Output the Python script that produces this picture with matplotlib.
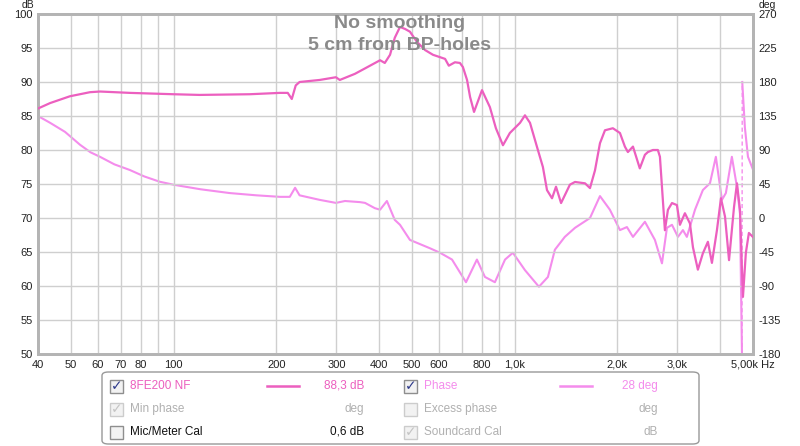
import matplotlib.pyplot as plt
import numpy as np
from matplotlib.patches import FancyBboxPatch, Rectangle

plt.rcParams['font.family'] = ['Liberation Sans', 'DejaVu Sans']
plt.rcParams['axes.unicode_minus'] = False

# magnitude (8FE200 NF), dB
mag_freq = [40, 43.4, 46.4, 49.6, 56.8, 60.8, 74.4, 100, 119, 167, 205, 216, 222, 228, 234,
            268, 299, 307, 340, 364, 403, 416, 431, 445, 461, 477, 493, 517, 546, 576,
            625, 641, 668, 691, 705, 725, 740, 760, 802, 846, 881, 924, 968, 1037, 1072,
            1109, 1162, 1210, 1244, 1287, 1322, 1368, 1452, 1503, 1608, 1663, 1720, 1779,
            1840, 1941, 2036, 2105, 2148, 2223, 2328, 2410, 2459, 2543, 2630, 2667, 2758,
            2815, 2893, 2991, 3053, 3157, 3266, 3333, 3446, 3564, 3687, 3789, 3919, 4027,
            4139, 4253, 4398, 4487, 4579, 4641, 4672, 4765, 4863, 5000]
mag_db = [86.1, 86.9, 87.4, 87.9, 88.5, 88.6, 88.4, 88.2, 88.1, 88.2, 88.4, 88.4, 87.5, 89.5, 90.0,
          90.3, 90.7, 90.3, 91.2, 92.0, 93.2, 92.8, 94.0, 96.5, 98.1, 97.8, 97.4, 95.9, 94.7, 94.0,
          93.4, 92.4, 92.9, 92.8, 92.2, 90.3, 87.8, 85.6, 88.8, 86.3, 83.2, 80.7, 82.5, 84.0, 85.1,
          84.0, 80.5, 77.5, 74.1, 72.9, 74.6, 72.2, 74.9, 75.3, 75.1, 74.4, 77.0, 81.0,
          82.9, 83.2, 82.5, 80.5, 79.7, 80.5, 77.3, 79.3, 79.7, 80.0, 80.0, 79.0, 68.2,
          71.2, 72.2, 71.9, 69.0, 70.7, 69.2, 65.7, 62.4, 64.8, 66.5, 63.4, 68.2, 72.9,
          70.2, 63.8, 71.6, 75.1, 71.2, 62.4, 58.4, 64.9, 67.8, 67.2]

# phase, deg (wraps near 4.6 kHz)
ph_freq = [40, 43.4, 48.0, 53.1, 57, 60.8, 67, 74.4, 82, 91, 100, 120, 146, 175, 205, 219, 227,
           234, 268, 299, 318, 352, 364, 389, 403, 422, 445, 461, 493, 564, 604, 655, 720, 775,
           818, 875, 937, 988, 1072, 1178, 1252, 1312, 1403, 1503, 1663, 1779, 1902, 2036,
           2134, 2223, 2410, 2578, 2704, 2796, 2893, 3012, 3115, 3199, 3380, 3564, 3739,
           3891, 4054, 4163, 4335, 4487, 4579, 4641]
ph_deg = [135, 126, 114, 97, 87, 81, 71, 63.5, 55, 48, 44, 38, 33, 30, 28, 28, 40,
          30, 24, 20, 22.5, 21, 20, 13, 11, 22.5, -2.5, -9, -29, -40, -46, -55, -85, -55,
          -78, -85, -55, -46, -69, -91, -78, -42, -25, -13, 0, 29, 11, -16,
          -12, -25, -5, -29, -60, -13, -9, -25, -16, -25, 11, 37, 46,
          81, 24, 33, 81, 41, 6, -180]
ph_freq2 = [4650, 4733, 4833, 5000]
ph_deg2 = [180, 120, 81, 64]

mag_color = '#ec5fbf'
ph_color = '#f48cec'
grid_color = '#cfcfcf'

fig = plt.figure(figsize=(8, 4.46), dpi=100)
ax = fig.add_axes([38 / 800, 1 - 354 / 446, 715 / 800, 340 / 446])
ax2 = ax.twinx()

ax.set_xscale('log')
ax.set_xlim(40, 5000)
ax.set_ylim(50, 100)
ax2.set_ylim(-180, 270)

grid_x = [40, 50, 60, 70, 80, 90, 100, 200, 300, 400, 500, 600, 700, 800, 900, 1000, 2000, 3000, 4000]
for gx in grid_x:
    ax.axvline(gx, color=grid_color, lw=1, zorder=0)
for gy in range(50, 101, 5):
    ax.axhline(gy, color=grid_color, lw=1, zorder=0)

xt = [40, 50, 60, 70, 80, 100, 200, 300, 400, 500, 600, 800, 1000, 2000, 3000, 5000]
xl = ['40', '50', '60', '70', '80', '100', '200', '300', '400', '500', '600', '800',
      '1,0k', '2,0k', '3,0k', '5,00k Hz']
ax.set_xticks(xt)
ax.set_xticklabels(xl)
ax.minorticks_off()
ax.set_yticks(range(50, 101, 5))
ax2.set_yticks(range(-180, 271, 45))

ax.tick_params(axis='both', length=0, labelsize=8, colors='#222222', pad=4)
ax2.tick_params(axis='y', length=0, labelsize=8, colors='#222222', pad=4)

for a in (ax, ax2):
    for s in a.spines.values():
        s.set_color('#b4b4b4')
        s.set_linewidth(2)

ax2.plot(ph_freq, ph_deg, color=ph_color, lw=1.5, zorder=3)
ax2.plot(ph_freq2, ph_deg2, color=ph_color, lw=1.5, zorder=3)
ax2.plot([ph_freq[-1], ph_freq2[0]], [ph_deg[-1], ph_deg2[0]], color=ph_color, lw=1, ls=(0, (3, 2)))
ax.plot(mag_freq, mag_db, color=mag_color, lw=1.6, zorder=4)
ax.set_zorder(ax2.get_zorder() + 1)
ax.patch.set_visible(False)

fig.text(28 / 800, 1 - 5 / 446, 'dB', fontsize=7.5, ha='center', va='center', color='#222222')
fig.text(767 / 800, 1 - 5 / 446, 'deg', fontsize=7.5, ha='center', va='center', color='#222222')

fig.text(400 / 800, 1 - 23 / 446, 'No smoothing', fontsize=14, fontweight='bold',
         ha='center', va='center', color='#8a8a8a')
fig.text(400 / 800, 1 - 45 / 446, '5 cm from BP-holes', fontsize=14, fontweight='bold',
         ha='center', va='center', color='#8a8a8a')

# legend panel
W, H = 800, 446
box = FancyBboxPatch((102 / W, 1 - 444 / H), 597 / W, 72 / H,
                     boxstyle='round,pad=0,rounding_size=0.008',
                     transform=fig.transFigure, fc='white', ec='#999999', lw=1)
fig.patches.append(box)

rows = [386, 409, 432]
legend_items = [
    # checkbox x, row, checked, enabled, label, label colour, value, value colour, line, value x
    (110, 0, True, True, '8FE200 NF', mag_color, '88,3 dB', mag_color, mag_color, 364),
    (110, 1, True, False, 'Min phase', '#b0b0b0', 'deg', '#b0b0b0', None, 364),
    (110, 2, False, True, 'Mic/Meter Cal', '#111111', '0,6 dB', '#111111', None, 364),
    (404, 0, True, True, 'Phase', ph_color, '28 deg', ph_color, ph_color, 658),
    (404, 1, False, False, 'Excess phase', '#b0b0b0', 'deg', '#b0b0b0', None, 658),
    (404, 2, True, False, 'Soundcard Cal', '#b0b0b0', 'dB', '#b0b0b0', None, 658),
]
for cx, r, checked, enabled, lab, lc, val, vc, line, vx in legend_items:
    y = rows[r]
    ec = '#8e8e8e' if enabled else '#cccccc'
    fig.patches.append(Rectangle((cx / W, 1 - (y + 7) / H), 13 / W, 13 / H,
                                 transform=fig.transFigure, fc='#f2f2f2', ec=ec, lw=1))
    if checked:
        fig.text((cx + 6.5) / W, 1 - y / H, '\u2713', family='DejaVu Sans', fontsize=10,
                 fontweight='bold', ha='center', va='center',
                 color='#2e3a8a' if enabled else '#c4c4c4')
    fig.text((cx + 20) / W, 1 - y / H, lab, fontsize=8.5, ha='left', va='center', color=lc)
    fig.text(vx / W, 1 - y / H, val, fontsize=8.5, ha='right', va='center', color=vc)
    if line:
        lx = 267 if cx < 300 else 560
        fig.lines.append(plt.Line2D([lx / W, (lx + 32) / W], [1 - y / H, 1 - y / H],
                                    transform=fig.transFigure, color=line, lw=1.8))

fig.savefig('out.png', dpi=100)
